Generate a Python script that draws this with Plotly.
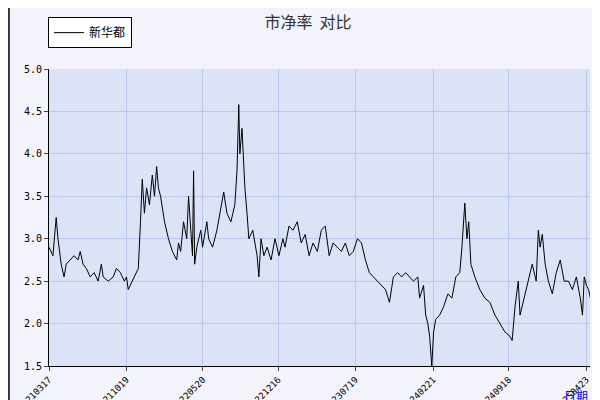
import pandas as pd
import plotly.graph_objects as go

start = pd.Timestamp("2021-03-17")
days = [0, 11, 20, 25, 34, 42, 48, 59, 70, 81, 87, 95, 104, 115, 126, 137, 146, 151, 165, 179, 188, 199, 210, 216, 221,
        232, 244, 249, 255, 260, 266, 272, 280, 288, 294, 300, 305, 311, 322, 333, 344, 356, 361, 367, 375, 384, 389,
        395, 400, 403, 406, 412, 423, 428, 440, 445, 456, 468, 479, 487, 496, 507, 518, 524, 529, 532, 538, 546, 552,
        557, 568, 580, 585, 591, 599, 608, 619, 630, 641, 652, 658, 669, 680, 692, 703, 714, 725, 736, 748, 759, 770,
        781, 792, 804, 815, 826, 837, 848, 860, 871, 882, 893, 904, 916, 927, 938, 949, 960, 972, 983, 994, 1005, 1016,
        1028, 1033, 1044, 1050, 1056, 1061, 1067, 1072, 1078, 1089, 1100, 1112, 1123, 1134, 1145, 1151, 1159, 1165,
        1170, 1176, 1187, 1201, 1215, 1229, 1243, 1257, 1271, 1285, 1291, 1299, 1308, 1313, 1324, 1336, 1347, 1358,
        1364, 1369, 1375, 1383, 1392, 1403, 1414, 1425, 1436, 1448, 1459, 1470, 1481, 1487, 1492, 1498, 1504, 1509]
pb = [2.9, 2.8, 3.25, 3.0, 2.7, 2.55, 2.7, 2.75, 2.8, 2.75, 2.85, 2.7, 2.65, 2.55, 2.6, 2.5, 2.7, 2.55, 2.5, 2.55,
      2.65, 2.6, 2.5, 2.55, 2.4, 2.5, 2.6, 2.65, 3.2, 3.7, 3.3, 3.6, 3.4, 3.75, 3.5, 3.85, 3.6, 3.5, 3.2, 3.0, 2.85,
      2.75, 2.95, 2.85, 3.2, 3.0, 3.5, 3.15, 2.8, 3.8, 2.7, 2.9, 3.1, 2.9, 3.2, 3.0, 2.9, 3.1, 3.35, 3.55, 3.3, 3.2,
      3.4, 3.8, 4.58, 4.0, 4.3, 3.6, 3.3, 3.0, 3.1, 2.8, 2.55, 3.0, 2.8, 2.9, 2.75, 3.0, 2.8, 3.0, 2.9, 3.15, 3.1,
      3.2, 2.95, 3.05, 2.8, 2.95, 2.85, 3.1, 3.15, 2.8, 2.95, 2.9, 2.85, 2.95, 2.8, 2.85, 3.0, 2.95, 2.75, 2.6, 2.55,
      2.5, 2.45, 2.4, 2.25, 2.55, 2.6, 2.55, 2.6, 2.55, 2.5, 2.55, 2.3, 2.45, 2.1, 2.0, 1.85, 1.5, 1.9, 2.05, 2.1,
      2.2, 2.35, 2.3, 2.55, 2.6, 2.9, 3.42, 3.0, 3.2, 2.7, 2.55, 2.4, 2.3, 2.25, 2.1, 2.0, 1.9, 1.85, 1.8, 2.2, 2.5,
      2.1, 2.3, 2.5, 2.7, 2.5, 3.1, 2.9, 3.05, 2.7, 2.5, 2.35, 2.6, 2.75, 2.5, 2.5, 2.4, 2.55, 2.3, 2.1, 2.55, 2.45,
      2.4, 2.3]
tick_labels = ["20210317", "20211019", "20220520", "20221216", "20230719", "20240221", "20240918", "20250423"]

dates = [start + pd.Timedelta(days=d) for d in days]
ticks = pd.to_datetime(tick_labels, format="%Y%m%d")

fig = go.Figure(go.Scatter(x=dates, y=pb, mode="lines", name="新华都",
                           line=dict(color="black", width=1)))
fig.update_layout(
    width=600, height=400, margin=dict(l=41, r=18, t=42, b=42, autoexpand=False),
    paper_bgcolor="#f2f3fb", plot_bgcolor="#dde3f7",
    font=dict(family="DejaVu Sans Mono", size=10, color="black"),
    title=dict(text="市净率  对比", x=0.5, y=0.965, xanchor="center", yanchor="middle",
               font=dict(family="Noto Sans CJK SC", size=16, color="#333")),
    showlegend=True,
    legend=dict(x=-0.002, y=1.104, xanchor="left", yanchor="top", bgcolor="white",
                bordercolor="black", borderwidth=1, itemwidth=30,
                font=dict(family="Noto Sans CJK SC", size=12)),
    shapes=[dict(type="rect", xref="paper", yref="paper", x0=-0.074, x1=1.03, y0=-0.135, y1=1.202,
                 line=dict(color="black", width=1.5))],
    annotations=[dict(text="日期", xref="paper", yref="paper", x=1.0, y=-0.06, xanchor="right",
                      yanchor="top", showarrow=False,
                      font=dict(family="Noto Sans CJK SC", size=12, color="blue"))],
)
fig.update_yaxes(domain=[0, 297 / 316])
fig.update_xaxes(range=[start, ticks[-1] + pd.Timedelta(days=10)], tickvals=ticks, ticktext=tick_labels,
                 tickangle=-45, gridcolor="#b8c7ee", showline=True, linecolor="black",
                 ticks="outside", ticklen=4, tickfont=dict(size=9))
fig.update_yaxes(range=[1.5, 5.0], dtick=0.5, tickformat=".1f", gridcolor="#b8c7ee",
                 showline=True, linecolor="black", zeroline=False, ticks="outside", ticklen=4)
fig.write_html("out.html")
